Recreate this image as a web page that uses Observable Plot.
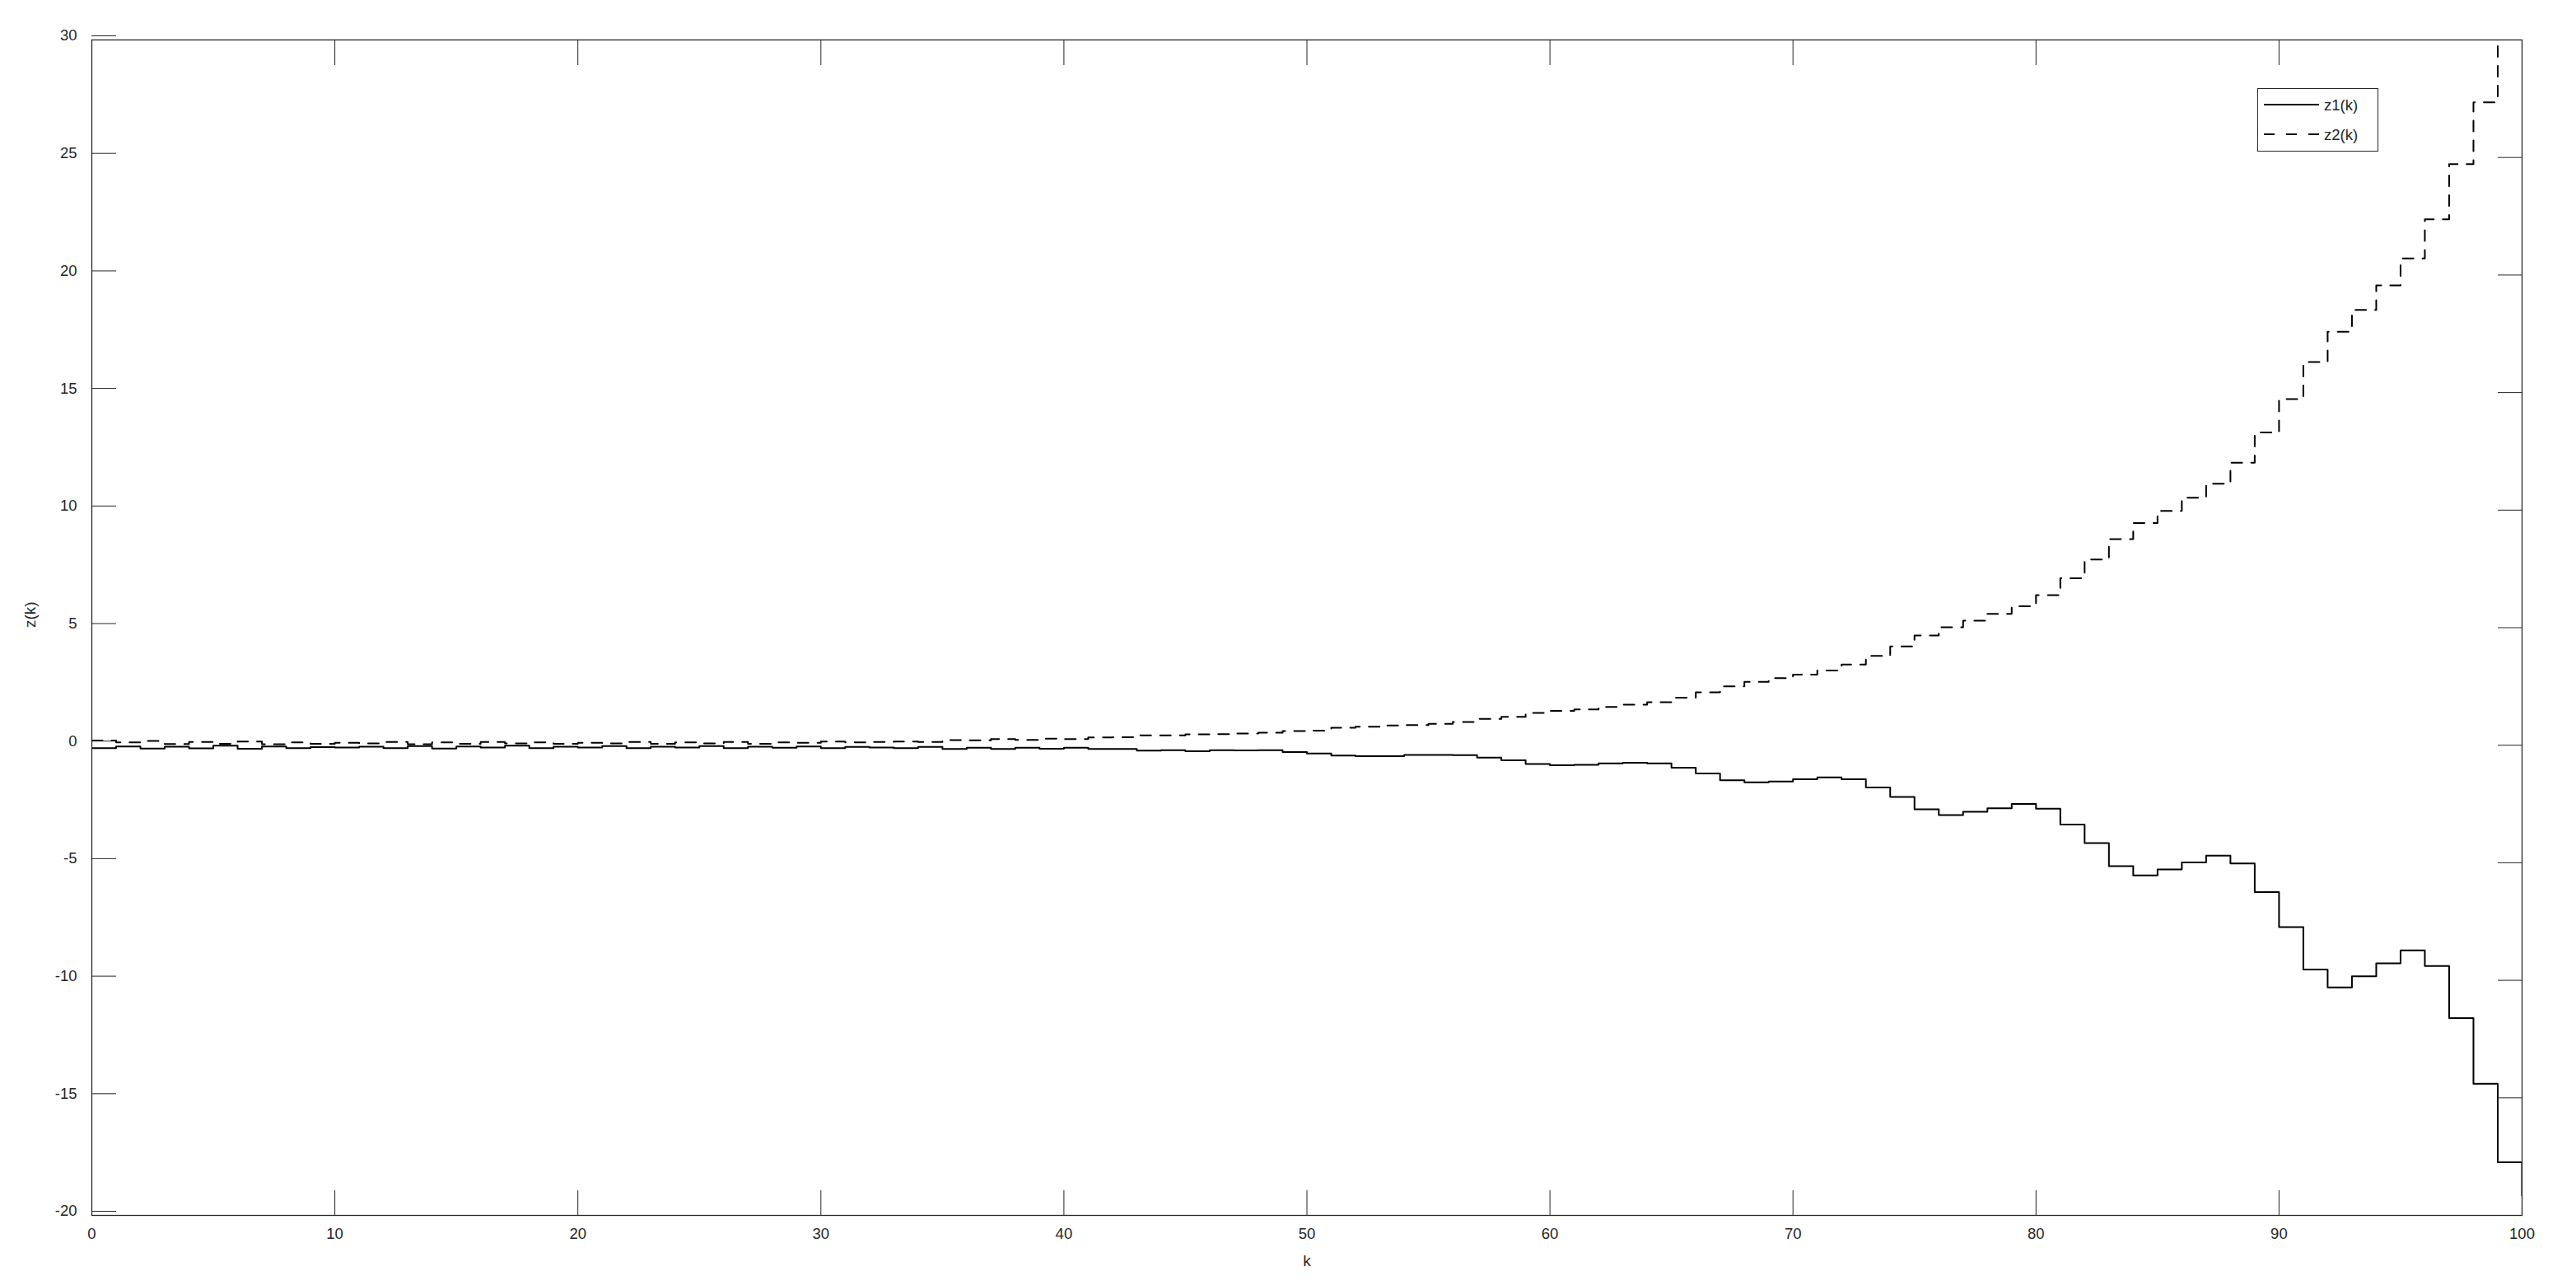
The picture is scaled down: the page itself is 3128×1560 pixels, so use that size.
<!DOCTYPE html>
<html><head><meta charset="utf-8">
<script src="https://cdn.jsdelivr.net/npm/d3@7"></script>
<script src="https://cdn.jsdelivr.net/npm/@observablehq/plot@0.6"></script>
<style>
html,body{margin:0;padding:0;background:#fff;}
#wrap{position:relative;width:3128px;height:1560px;font-family:"Liberation Sans",Arial,Helvetica,sans-serif;}
#legend{position:absolute;left:2741px;top:107px;width:147px;height:77px;box-sizing:border-box;border:1.3px solid #262626;background:#fff;}
#legend svg{position:absolute;left:0;top:0;}
#legend text{font-family:"Liberation Sans",Arial,Helvetica,sans-serif;font-size:18.5px;fill:#262626;}
</style></head><body>
<div id="wrap">
<div id="legend"><svg width="147" height="77">
<line x1="7" x2="74" y1="19" y2="19" stroke="#000" stroke-width="2"/>
<line x1="7" x2="74" y1="55" y2="55" stroke="#000" stroke-width="2" stroke-dasharray="13,14"/>
<text x="80" y="26">z1(k)</text>
<text x="80" y="62">z2(k)</text>
</svg></div>
</div>
<script>
// z1(k), k = 0..100
const z1 = [
 -0.12,-0.05,-0.14,-0.06,-0.13,-0.02,-0.15,-0.05,-0.12,-0.08,
 -0.10,-0.06,-0.12,-0.04,-0.14,-0.05,-0.10,-0.02,-0.12,-0.06,
 -0.10,-0.04,-0.12,-0.06,-0.10,-0.04,-0.12,-0.06,-0.11,-0.05,
 -0.12,-0.07,-0.10,-0.12,-0.07,-0.16,-0.11,-0.16,-0.11,-0.15,
 -0.11,-0.16,-0.16,-0.23,-0.21,-0.26,-0.21,-0.22,-0.21,-0.29,
 -0.35,-0.44,-0.47,-0.47,-0.41,-0.41,-0.42,-0.53,-0.64,-0.80,
 -0.85,-0.83,-0.77,-0.75,-0.77,-0.96,-1.20,-1.49,-1.58,-1.54,
 -1.45,-1.37,-1.45,-1.80,-2.20,-2.73,-2.97,-2.83,-2.68,-2.50,
 -2.70,-3.37,-4.16,-5.14,-5.54,-5.28,-4.99,-4.70,-5.03,-6.25,
 -7.74,-9.54,-10.30,-9.83,-9.28,-8.73,-9.39,-11.61,-14.40,-17.74,
 -19.16
];
// z2(k), k = 0..100
const z2 = [
 0.20,0.12,0.18,0.05,0.14,0.06,0.16,0.04,0.12,0.06,
 0.10,0.08,0.14,0.04,0.12,0.06,0.14,0.08,0.12,0.06,
 0.10,0.08,0.14,0.06,0.12,0.08,0.14,0.06,0.12,0.10,
 0.16,0.12,0.14,0.16,0.14,0.22,0.21,0.26,0.23,0.28,
 0.26,0.33,0.34,0.42,0.42,0.46,0.47,0.50,0.53,0.60,
 0.62,0.74,0.79,0.84,0.86,0.91,0.99,1.12,1.21,1.37,
 1.46,1.52,1.63,1.72,1.83,2.02,2.25,2.50,2.70,2.85,
 3.00,3.18,3.43,3.80,4.20,4.67,5.02,5.30,5.59,5.91,
 6.38,7.10,7.90,8.77,9.45,9.97,10.53,11.12,12.02,13.30,
 14.72,16.30,17.59,18.52,19.56,20.71,22.37,24.72,27.35,30.80,
 34.00
];
const xTicks = [0,10,20,30,40,50,60,70,80,90,100];
const yTicks = [-20,-15,-10,-5,0,5,10,15,20,25,30];
const xLabel = "k";
const yLabel = "z(k)";

const d1 = z1.map((z, i) => ({k: i, z}));
const d2 = z2.map((z, i) => ({k: i, z}));
const ink = "#262626";
const fmt = d => String(d);

const chart = Plot.plot({
  width: 3128, height: 1560,
  marginLeft: 111, marginRight: 66, marginTop: 48, marginBottom: 85,
  style: {fontFamily: '"Liberation Sans", Arial, Helvetica, sans-serif', fontSize: "18.5px", color: ink, background: "#fff"},
  x: {domain: [0, 100]},
  y: {domain: [-20, 30]},
  marks: [
    Plot.line(d1, {x: "k", y: "z", curve: "step-after", stroke: "#000", strokeWidth: 2, clip: true}),
    Plot.line(d2, {x: "k", y: "z", curve: "step-after", stroke: "#000", strokeWidth: 2, strokeDasharray: "13,11", clip: true}),
    Plot.frame({stroke: ink, strokeWidth: 1.3}),
    Plot.axisX({anchor: "bottom", ticks: xTicks, tickFormat: fmt, tickSize: -30, tickPadding: 45, label: null, stroke: ink, fill: ink}),
    Plot.axisX({anchor: "top", ticks: xTicks, tickFormat: () => "", tickSize: -30, label: null, stroke: ink}),
    Plot.axisY({anchor: "left", ticks: yTicks, tickFormat: fmt, tickSize: -30, tickPadding: 48, dy: -5, label: null, stroke: ink, fill: ink}),
    Plot.axisY({anchor: "right", ticks: yTicks, tickFormat: () => "", tickSize: -30, label: null, stroke: ink}),
    Plot.text([xLabel], {text: d => d, frameAnchor: "bottom", dy: 61, fill: ink, fontSize: 19}),
    Plot.text([yLabel], {text: d => d, frameAnchor: "left", dx: -75, rotate: -90, fill: ink, fontSize: 19})
  ]
});
document.getElementById("wrap").prepend(chart);
</script>
</body></html>
